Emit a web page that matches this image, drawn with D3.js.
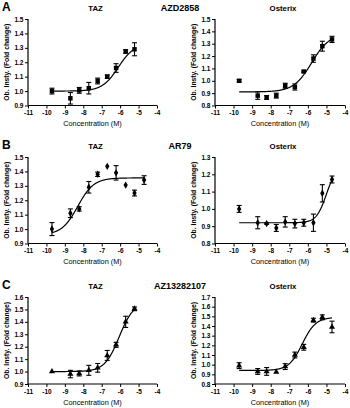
<!DOCTYPE html>
<html>
<head>
<meta charset="utf-8">
<script src="https://cdn.jsdelivr.net/npm/d3@7"></script>
<style>
  html, body { margin: 0; padding: 0; background: #fff; }
  svg { display: block; font-family: "Liberation Sans", Arial, sans-serif; }
  .tick text { font-size: 6.5px; font-weight: bold; }
</style>
</head>
<body>
<div id="chart"></div>
<script>
// --- concentrations (log M) ---
const conc = [-9.7, -8.7, -8.22, -7.7, -7.22, -6.7, -6.22, -5.7, -5.22, -4.7];

// --- A: AZD2858 ---
const tazA_mean = [1.00, 0.95, 1.005, 1.02, 1.07, 1.10, 1.16, 1.275, 1.29];
const tazA_err  = [0.02, 0.04, 0.02, 0.04, 0.02, 0.012, 0.03, 0.012, 0.045];
const ostA_mean = [1.00, 0.88, 0.865, 0.88, 0.96, 0.95, 1.075, 1.18, 1.28, 1.335];
const ostA_err  = [0.01, 0.03, 0.015, 0.02, 0.02, 0.025, 0.006, 0.03, 0.04, 0.025];

// --- B: AR79 ---
const tazB_mean = [1.00, 1.11, 1.14, 1.29, 1.38, 1.435, 1.39, 1.305, 1.25, 1.34];
const tazB_err  = [0.045, 0.03, 0.015, 0.04, 0.015, 0, 0.05, 0, 0.02, 0.03];
const ostB_mean = [1.00, 0.92, 0.915, 0.89, 0.925, 0.915, 0.92, 0.92, 1.09, 1.17];
const ostB_err  = [0.02, 0.035, 0.004, 0.02, 0.03, 0.025, 0.02, 0.05, 0.05, 0.02];

// --- C: AZ13282107 ---
const tazC_mean = [1.00, 0.98, 0.985, 1.01, 1.03, 1.13, 1.215, 1.40, 1.505];
const tazC_err  = [0, 0.03, 0.02, 0.04, 0.035, 0.04, 0.02, 0.045, 0.015];
const ostC_mean = [0.99, 0.93, 0.93, 0.925, 0.98, 1.10, 1.18, 1.46, 1.49, 1.39];
const ostC_err  = [0.03, 0.03, 0.04, 0, 0.03, 0.03, 0.03, 0.02, 0.025, 0.06];

// --- fitted curves: [bottom, top, logEC50, hill, xFrom, xTo] ---
const fitTazA = [1.00, 1.33, -6.1, 1.0, -9.7, -5.22];
const fitOstA = [0.91, 1.38, -5.8, 0.9, -9.7, -4.7];
const fitTazB = [0.96, 1.355, -8.3, 1.0, -9.7, -4.7];
const fitOstB = [0.92, 1.25, -5.0, 1.6, -9.7, -4.7];
const fitTazC = [1.00, 1.56, -6.05, 1.1, -9.7, -5.22];
const fitOstC = [0.94, 1.49, -6.3, 1.2, -9.7, -4.7];

// --- y domains ---
const yDomA = [[0.9, 1.5], [0.8, 1.5]];
const yDomB = [[0.9, 1.5], [0.8, 1.3]];
const yDomC = [[0.9, 1.6], [0.8, 1.7]];

const xTicks = [-11, -10, -9, -8, -7, -6, -5, -4];
const rowLetters = ["A", "B", "C"];
const compounds = ["AZD2858", "AR79", "AZ13282107"];
const genes = ["TAZ", "Osterix"];

const W = 350, H = 408;
const svg = d3.select("#chart").append("svg").attr("width", W).attr("height", H);

// plot frame positions
const colX = [[28, 157], [215, 345]];
const rowY = [[19, 105.5], [157, 243.5], [297, 384]];

const panels = [
  { row: 0, col: 0, mean: tazA_mean, err: tazA_err, fit: fitTazA, yDom: yDomA[0], sym: d3.symbolSquare, size: 20 },
  { row: 0, col: 1, mean: ostA_mean, err: ostA_err, fit: fitOstA, yDom: yDomA[1], sym: d3.symbolSquare, size: 20 },
  { row: 1, col: 0, mean: tazB_mean, err: tazB_err, fit: fitTazB, yDom: yDomB[0], sym: d3.symbolDiamond, size: 16 },
  { row: 1, col: 1, mean: ostB_mean, err: ostB_err, fit: fitOstB, yDom: yDomB[1], sym: d3.symbolDiamond, size: 16 },
  { row: 2, col: 0, mean: tazC_mean, err: tazC_err, fit: fitTazC, yDom: yDomC[0], sym: d3.symbolTriangle, size: 16 },
  { row: 2, col: 1, mean: ostC_mean, err: ostC_err, fit: fitOstC, yDom: yDomC[1], sym: d3.symbolTriangle, size: 16 }
];

function logistic(p, x) {
  const [bot, top, ec, hill] = p;
  return bot + (top - bot) / (1 + Math.pow(10, (ec - x) * hill));
}

panels.forEach(p => {
  const [x0, x1] = colX[p.col];
  const [y0, y1] = rowY[p.row];
  const x = d3.scaleLinear().domain([-11, -4]).range([x0, x1]);
  const y = d3.scaleLinear().domain(p.yDom).range([y1, y0]);
  const g = svg.append("g");

  // axes
  const yTicks = d3.range(Math.round(p.yDom[0] * 10), Math.round(p.yDom[1] * 10) + 1).map(v => v / 10);
  g.append("g")
    .attr("transform", `translate(${x0},0)`)
    .call(d3.axisLeft(y).tickValues(yTicks).tickFormat(d3.format(".1f")).tickSize(3).tickPadding(1.5))
    .call(a => a.select(".domain").attr("stroke-width", 1.2).attr("d", `M0,${y0}V${y1}`));
  g.append("g")
    .attr("transform", `translate(0,${y1})`)
    .call(d3.axisBottom(x).tickValues(xTicks).tickFormat(d => String(d)).tickSize(3).tickPadding(2))
    .call(a => a.select(".domain").attr("stroke-width", 1.2).attr("d", `M${x0},0H${x1}`));
  g.selectAll(".tick line").attr("stroke-width", 1);

  // axis titles
  g.append("text")
    .attr("x", (x0 + x1) / 2).attr("y", y1 + 20.5)
    .attr("text-anchor", "middle")
    .style("font-size", "7.3px")
    .text("Concentration (M)");
  g.append("text")
    .attr("transform", `translate(${x0 - 19},${(y0 + y1) / 2}) rotate(-90)`)
    .attr("text-anchor", "middle")
    .style("font-size", "6.8px").style("font-weight", "bold")
    .text("Ob. Insty. (Fold change)");

  // gene title
  g.append("text")
    .attr("x", (x0 + x1) / 2 + 3).attr("y", y0 - 8)
    .attr("text-anchor", "middle")
    .style("font-size", "7.8px").style("font-weight", "bold")
    .text(genes[p.col]);

  // fitted curve
  const cx = d3.range(p.fit[4], p.fit[5] + 1e-9, 0.02);
  g.append("path")
    .datum(cx)
    .attr("fill", "none").attr("stroke", "#000").attr("stroke-width", 1.2)
    .attr("d", d3.line().x(d => x(d)).y(d => y(logistic(p.fit, d))));

  // points & error bars
  const pts = p.mean.map((m, i) => ({ c: conc[i], m: m, e: p.err[i] }));
  const eb = g.selectAll("g.eb").data(pts.filter(d => d.e > 0)).join("g").attr("class", "eb");
  eb.append("line")
    .attr("x1", d => x(d.c)).attr("x2", d => x(d.c))
    .attr("y1", d => y(d.m - d.e)).attr("y2", d => y(d.m + d.e))
    .attr("stroke", "#000").attr("stroke-width", 1.1);
  [-1, 1].forEach(s => {
    eb.append("line")
      .attr("x1", d => x(d.c) - 2.5).attr("x2", d => x(d.c) + 2.5)
      .attr("y1", d => y(d.m + s * d.e)).attr("y2", d => y(d.m + s * d.e))
      .attr("stroke", "#000").attr("stroke-width", 1.1);
  });
  g.selectAll("path.pt").data(pts).join("path")
    .attr("class", "pt")
    .attr("transform", d => `translate(${x(d.c)},${y(d.m)})`)
    .attr("d", d3.symbol().type(p.sym).size(p.size))
    .attr("fill", "#000");
});

// row letters and compound names
rowLetters.forEach((l, i) => {
  svg.append("text")
    .attr("x", 2).attr("y", rowY[i][0] - 8)
    .style("font-size", "12px").style("font-weight", "bold")
    .text(l);
  svg.append("text")
    .attr("x", 180).attr("y", rowY[i][0] - 8)
    .attr("text-anchor", "middle")
    .style("font-size", "9px").style("font-weight", "bold")
    .text(compounds[i]);
});
</script>
</body>
</html>
